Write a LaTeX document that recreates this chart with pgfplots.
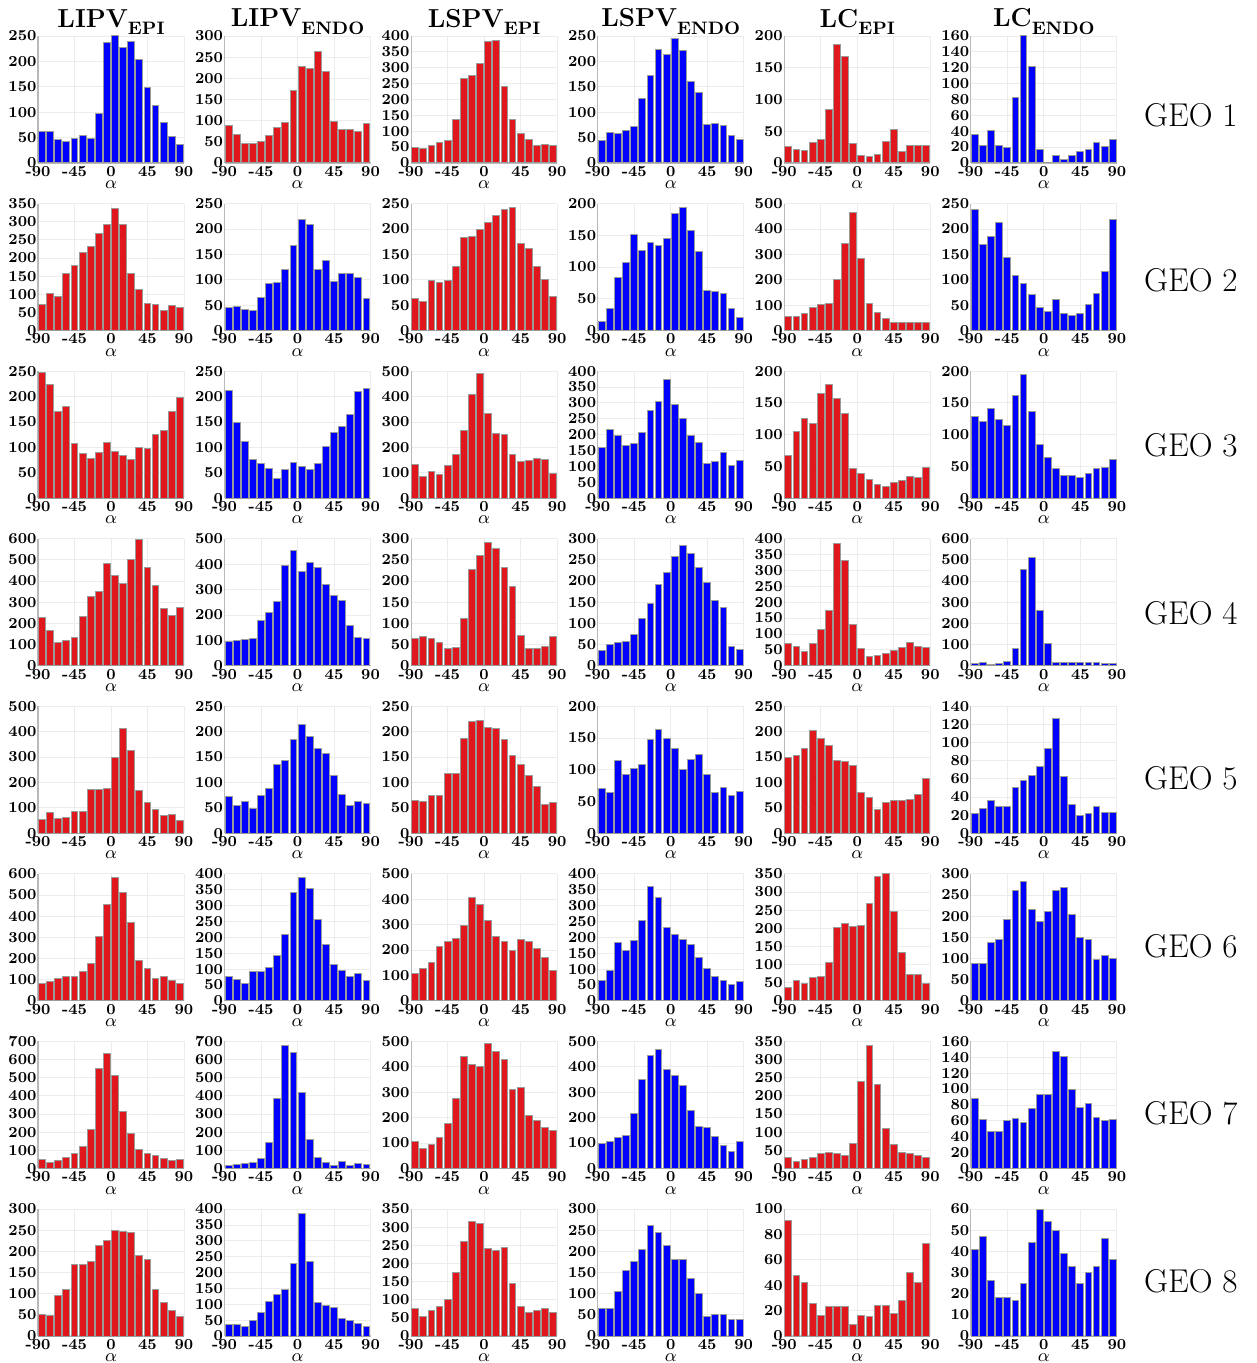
\documentclass[border=0pt]{standalone}
\usepackage{fontspec}
\usepackage{pgfplots}
\usepackage{pgfplotstable}
\pgfplotsset{compat=1.18}
\definecolor{barblue}{HTML}{0000FF}
\definecolor{barred}{HTML}{E0181E}
\definecolor{baredge}{HTML}{9A9A9A}

% one table per geometry, columns: LIPV_EPI LIPV_ENDO LSPV_EPI LSPV_ENDO LC_EPI LC_ENDO
\pgfplotstableread{
x a b c d e f
-85 62 89 48 45 26 36
-75 61 68 46 60 22 22
-65 46 45 56 58 19 41
-55 42 46 66 64 33 22
-45 49 50 72 71 37 19
-35 55 65 137 127 84 83
-25 49 83 267 173 187 160
-15 98 96 275 223 167 122
-5 238 171 312 213 31 17
5 250 227 383 246 12 1
15 228 223 387 222 10 9
25 239 264 240 160 13 5
35 203 215 138 139 34 10
45 148 98 93 75 52 15
55 114 80 75 77 18 17
65 80 78 55 74 27 26
75 53 75 58 55 27 21
85 36 94 56 46 28 29
}\geoA
\pgfplotstableread{
x a b c d e f
-85 71 46 63 14 57 238
-75 102 47 58 34 57 169
-65 95 42 99 84 66 186
-55 156 40 95 107 90 213
-45 180 65 98 151 102 143
-35 215 93 126 126 108 108
-25 233 94 183 138 200 93
-15 267 120 186 134 341 70
-5 291 167 199 145 466 46
5 336 218 213 184 284 38
15 291 208 227 194 107 62
25 156 121 239 157 71 33
35 114 137 242 125 49 29
45 75 97 172 63 30 33
55 72 112 161 61 30 52
65 55 113 127 58 30 73
75 70 104 101 35 33 116
85 64 64 68 20 30 218
}\geoB
\pgfplotstableread{
x a b c d e f
-85 248 212 131 158 67 129
-75 224 148 86 216 105 121
-65 171 111 104 198 126 141
-55 181 77 94 167 118 124
-45 108 69 130 173 165 115
-35 87 58 170 207 179 162
-25 78 38 268 275 157 195
-15 89 57 408 303 133 136
-5 110 71 489 373 46 85
5 91 62 332 294 39 64
15 84 57 256 252 30 47
25 76 69 250 198 21 36
35 100 102 170 175 19 36
45 98 130 146 108 24 33
55 126 141 150 114 28 39
65 133 164 157 143 34 47
75 170 210 151 102 32 49
85 199 216 96 118 48 61
}\geoC
\pgfplotstableread{
x a b c d e f
-85 230 94 65 36 70 10
-75 165 98 69 49 61 13
-65 108 105 65 55 45 5
-55 117 108 56 58 71 11
-45 132 178 41 73 115 19
-35 233 211 44 111 175 82
-25 325 254 112 148 386 453
-15 352 396 227 193 331 510
-5 483 452 260 221 130 259
5 425 372 290 258 54 105
15 388 408 277 283 28 15
25 502 385 233 264 31 14
35 598 318 186 232 39 17
45 465 276 71 196 47 17
55 381 256 40 153 58 17
65 271 158 41 138 72 16
75 236 110 46 46 62 11
85 275 107 70 38 56 10
}\geoD
\pgfplotstableread{
x a b c d e f
-85 55 72 65 70 150 22
-75 80 55 63 65 154 27
-65 60 63 74 115 166 36
-55 61 49 75 92 203 29
-45 86 75 118 102 187 30
-35 84 88 117 109 172 51
-25 172 135 186 147 144 58
-15 172 144 221 163 141 64
-5 178 185 223 149 133 74
5 298 215 208 134 81 93
15 412 190 206 101 71 127
25 324 167 185 116 47 63
35 169 158 153 124 61 32
45 123 113 136 92 65 20
55 95 76 113 65 64 22
65 70 55 92 72 66 29
75 74 62 57 59 77 23
85 52 58 61 66 108 23
}\geoE
\pgfplotstableread{
x a b c d e f
-85 80 76 107 63 38 88
-75 93 66 128 96 55 89
-65 105 55 152 183 47 138
-55 114 92 216 159 65 144
-45 116 91 234 191 67 193
-35 141 105 245 253 105 260
-25 177 143 297 361 203 281
-15 306 209 408 325 214 217
-5 453 342 380 231 206 187
5 583 388 318 208 207 211
15 510 353 252 193 267 260
25 370 255 232 179 343 267
35 190 179 199 136 350 205
45 154 113 243 103 246 150
55 108 97 233 78 133 145
65 113 77 208 63 73 97
75 98 87 172 53 72 107
85 80 64 120 61 48 99
}\geoF
\pgfplotstableread{
x a b c d e f
-85 50 15 105 100 30 88
-75 35 20 80 105 20 62
-65 45 25 95 120 25 46
-55 60 35 120 130 30 46
-45 80 55 175 215 40 60
-35 120 145 275 350 45 63
-25 215 385 440 445 40 58
-15 550 680 410 470 35 75
-5 635 640 400 390 70 93
5 510 420 490 365 240 93
15 315 160 460 325 340 147
25 190 60 430 230 230 141
35 105 30 310 165 110 100
45 85 15 320 160 65 77
55 70 40 210 125 45 82
65 55 15 190 90 40 64
75 45 25 160 65 35 60
85 50 20 150 105 30 62
}\geoG
\pgfplotstableread{
x a b c d e f
-85 50 35 75 65 91 41
-75 48 35 55 65 48 47
-65 95 30 70 105 42 26
-55 110 50 80 155 26 18
-45 170 75 100 175 16 18
-35 170 110 175 205 23 17
-25 175 130 260 260 23 25
-15 215 145 315 245 23 44
-5 225 230 310 215 9 60
5 250 385 240 180 16 54
15 248 235 235 180 15 50
25 245 105 245 135 24 39
35 190 95 145 100 24 33
45 180 90 80 45 18 25
55 110 55 65 50 28 30
65 80 50 70 50 50 33
75 60 40 75 40 42 46
85 45 30 65 40 73 36
}\geoH

\pgfplotsset{hist/.style={
  width=73pt, height=63.5pt, scale only axis, anchor=north west,
  xmin=-90, xmax=90, ymin=0,
  xtick={-90,-45,0,45,90}, xticklabels={-90,-45,0,45,90},
  axis lines=left, axis line style={-, draw=gray!55, line width=0.6pt},
  grid=major, major grid style={draw=gray!15, line width=0.4pt},
  major tick length=0pt,
  tick label style={font=\fontsize{7.6}{8}\selectfont\bfseries},
  /pgf/number format/assume math mode=true,
  yticklabel style={inner xsep=0.6pt},
  xticklabel style={inner ysep=1.5pt},
  xlabel={$\alpha$}, xlabel style={font=\fontsize{9}{10}\selectfont, inner sep=0.4pt},
  ybar, bar width=8.4,
}}

% #1 column, #2 row, #3 table, #4 column name, #5 colour, #6 ymax, #7 tick step
\newcommand{\hist}[7]{%
  \begin{axis}[hist, at={(#1*93.3pt,-#2*83.8pt)}, ymax=#6, ytick distance=#7]
    \addplot[fill=#5, draw=baredge, line width=0.5pt] table[x=x, y=#4] {#3};
  \end{axis}}

\newcommand{\coltitle}[3]{%
  \node[anchor=south, inner sep=0pt, font=\fontsize{13}{15}\selectfont\bfseries]
    at (36.5pt+#1*93.3pt, 0.6pt) {#2\raisebox{-0.28em}{\fontsize{9}{9}\selectfont #3}};}

\begin{document}
\begin{tikzpicture}
\useasboundingbox (-19pt,18pt) rectangle (609.5pt,-663.6pt);

\hist{0}{0}{\geoA}{a}{barblue}{250}{50}
\hist{1}{0}{\geoA}{b}{barred}{300}{50}
\hist{2}{0}{\geoA}{c}{barred}{400}{50}
\hist{3}{0}{\geoA}{d}{barblue}{250}{50}
\hist{4}{0}{\geoA}{e}{barred}{200}{50}
\hist{5}{0}{\geoA}{f}{barblue}{160}{20}

\hist{0}{1}{\geoB}{a}{barred}{350}{50}
\hist{1}{1}{\geoB}{b}{barblue}{250}{50}
\hist{2}{1}{\geoB}{c}{barred}{250}{50}
\hist{3}{1}{\geoB}{d}{barblue}{200}{50}
\hist{4}{1}{\geoB}{e}{barred}{500}{100}
\hist{5}{1}{\geoB}{f}{barblue}{250}{50}

\hist{0}{2}{\geoC}{a}{barred}{250}{50}
\hist{1}{2}{\geoC}{b}{barblue}{250}{50}
\hist{2}{2}{\geoC}{c}{barred}{500}{100}
\hist{3}{2}{\geoC}{d}{barblue}{400}{50}
\hist{4}{2}{\geoC}{e}{barred}{200}{50}
\hist{5}{2}{\geoC}{f}{barblue}{200}{50}

\hist{0}{3}{\geoD}{a}{barred}{600}{100}
\hist{1}{3}{\geoD}{b}{barblue}{500}{100}
\hist{2}{3}{\geoD}{c}{barred}{300}{50}
\hist{3}{3}{\geoD}{d}{barblue}{300}{50}
\hist{4}{3}{\geoD}{e}{barred}{400}{50}
\hist{5}{3}{\geoD}{f}{barblue}{600}{100}

\hist{0}{4}{\geoE}{a}{barred}{500}{100}
\hist{1}{4}{\geoE}{b}{barblue}{250}{50}
\hist{2}{4}{\geoE}{c}{barred}{250}{50}
\hist{3}{4}{\geoE}{d}{barblue}{200}{50}
\hist{4}{4}{\geoE}{e}{barred}{250}{50}
\hist{5}{4}{\geoE}{f}{barblue}{140}{20}

\hist{0}{5}{\geoF}{a}{barred}{600}{100}
\hist{1}{5}{\geoF}{b}{barblue}{400}{50}
\hist{2}{5}{\geoF}{c}{barred}{500}{100}
\hist{3}{5}{\geoF}{d}{barblue}{400}{50}
\hist{4}{5}{\geoF}{e}{barred}{350}{50}
\hist{5}{5}{\geoF}{f}{barblue}{300}{50}

\hist{0}{6}{\geoG}{a}{barred}{700}{100}
\hist{1}{6}{\geoG}{b}{barblue}{700}{100}
\hist{2}{6}{\geoG}{c}{barred}{500}{100}
\hist{3}{6}{\geoG}{d}{barblue}{500}{100}
\hist{4}{6}{\geoG}{e}{barred}{350}{50}
\hist{5}{6}{\geoG}{f}{barblue}{160}{20}

\hist{0}{7}{\geoH}{a}{barred}{300}{50}
\hist{1}{7}{\geoH}{b}{barblue}{400}{50}
\hist{2}{7}{\geoH}{c}{barred}{350}{50}
\hist{3}{7}{\geoH}{d}{barblue}{300}{50}
\hist{4}{7}{\geoH}{e}{barred}{100}{20}
\hist{5}{7}{\geoH}{f}{barblue}{60}{10}

\coltitle{0}{LIPV}{EPI}
\coltitle{1}{LIPV}{ENDO}
\coltitle{2}{LSPV}{EPI}
\coltitle{3}{LSPV}{ENDO}
\coltitle{4}{LC}{EPI}
\coltitle{5}{LC}{ENDO}

\foreach \g/\y in {1/-39.5, 2/-122, 3/-204.5, 4/-288.5, 5/-371, 6/-455, 7/-538.5, 8/-622.5}{
  \node[font=\fontsize{16.5}{19}\selectfont, inner sep=0pt] at (576.5pt,\y pt) {GEO \g};
}
\end{tikzpicture}
\end{document}
